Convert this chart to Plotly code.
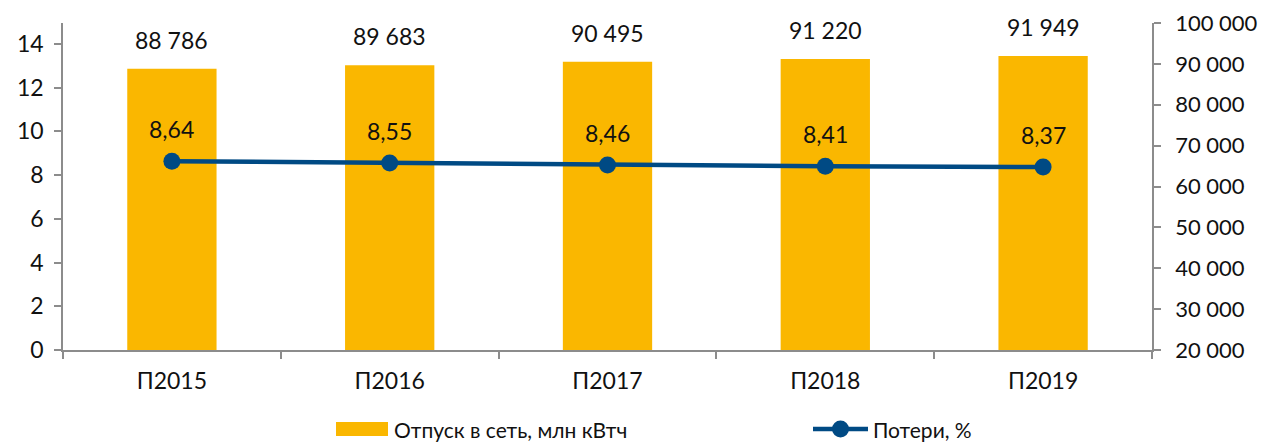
import plotly.graph_objects as go

categories = ["П2015", "П2016", "П2017", "П2018", "П2019"]
supply = [88786, 89683, 90495, 91220, 91949]   # Отпуск в сеть, млн кВтч (right axis)
losses = [8.64, 8.55, 8.46, 8.41, 8.37]        # Потери, % (left axis)

left_ticks = [0, 2, 4, 6, 8, 10, 12, 14]
right_ticks = [20000, 30000, 40000, 50000, 60000, 70000, 80000, 90000, 100000]
series_names = ["Отпуск в сеть, млн кВтч", "Потери, %"]

def fmt_thousands(v):
    return f"{v:,}".replace(",", " ")

def fmt_dec(v):
    return f"{v:.2f}".replace(".", ",")

BAR = "#FAB700"
LINE = "#004A84"
AX = "#8C8C8C"
FONT = "Lato"
TXT = "#111111"

OFF = 8  # page body margin
W, H = 1258, 434
L, R, T, B = 55, 114, 15, 92
PW, PH = W - L - R, H - T - B

def px(x):
    return (x - OFF - L) / PW

def py(y):
    return (H - B - (y - OFF)) / PH

fig = go.Figure()
fig.add_trace(go.Bar(
    x=categories, y=supply, yaxis="y", name=series_names[0],
    marker=dict(color=BAR, line=dict(width=0)), width=0.41,
))
fig.add_trace(go.Scatter(
    x=categories, y=losses, yaxis="y2", name=series_names[1],
    mode="lines+markers", line=dict(color=LINE, width=4.5),
    marker=dict(color=LINE, size=17), cliponaxis=False,
))

annotations = []
for c, v in zip(categories, supply):
    annotations.append(dict(x=c, y=v, xref="x", yref="y", text=fmt_thousands(v),
                            showarrow=False, yshift=29,
                            font=dict(family=FONT, size=23, color=TXT)))
for c, v in zip(categories, losses):
    annotations.append(dict(x=c, y=v, xref="x", yref="y2", text=fmt_dec(v),
                            showarrow=False, yshift=32,
                            font=dict(family=FONT, size=23, color=TXT)))

# custom legend
LEG_Y = 429
shapes = [
    dict(type="rect", xref="paper", yref="paper", x0=px(336), x1=px(388),
         y0=py(LEG_Y + 7), y1=py(LEG_Y - 7), fillcolor=BAR, line=dict(width=0)),
    dict(type="line", xref="paper", yref="paper", x0=px(813), x1=px(868),
         y0=py(LEG_Y), y1=py(LEG_Y), line=dict(color=LINE, width=4.5)),
    dict(type="circle", xref="paper", yref="paper", x0=px(832), x1=px(849),
         y0=py(LEG_Y + 8.5), y1=py(LEG_Y - 8.5), fillcolor=LINE, line=dict(width=0)),
]
annotations.append(dict(xref="paper", yref="paper", x=px(392), y=py(LEG_Y),
                        xanchor="left", yanchor="middle", showarrow=False,
                        text=series_names[0], font=dict(family=FONT, size=21, color=TXT)))
annotations.append(dict(xref="paper", yref="paper", x=px(871), y=py(LEG_Y),
                        xanchor="left", yanchor="middle", showarrow=False,
                        text=series_names[1], font=dict(family=FONT, size=21, color=TXT)))

fig.update_layout(
    width=W, height=H,
    margin=dict(l=L, r=R, t=T, b=B, autoexpand=False),
    paper_bgcolor="white", plot_bgcolor="white",
    font=dict(family=FONT, size=23, color=TXT),
    showlegend=False,
    xaxis=dict(showline=True, linecolor=AX, linewidth=1.5, ticks="outside",
               tickson="boundaries", ticklen=7, tickcolor=AX, tickwidth=1.5,
               showgrid=False, zeroline=False, tickfont=dict(size=23),
               ticklabelstandoff=10),
    yaxis=dict(range=[20000, 100000], tickvals=right_ticks,
               ticktext=[fmt_thousands(t) for t in right_ticks],
               side="right", showline=True, linecolor=AX,
               linewidth=1.5, ticks="outside", ticklen=7, tickcolor=AX, tickwidth=1.5,
               showgrid=False, zeroline=False, tickfont=dict(size=22),
               ticklabelstandoff=10),
    yaxis2=dict(range=[0, 14.96], tickvals=left_ticks, overlaying="y", side="left",
                showline=True, linecolor=AX,
                linewidth=1.5, ticks="outside", ticklen=7, tickcolor=AX, tickwidth=1.5,
                showgrid=False, zeroline=False, tickfont=dict(size=23),
                ticklabelstandoff=6),
    shapes=shapes,
    annotations=annotations,
)

fig.write_html("out.html")
